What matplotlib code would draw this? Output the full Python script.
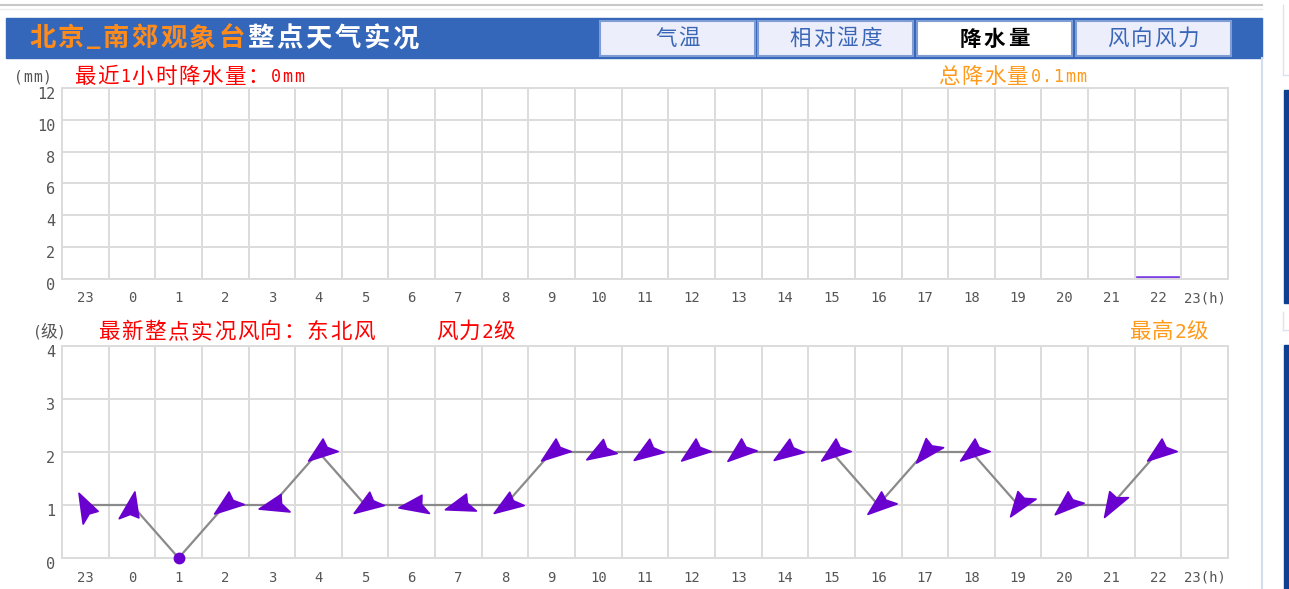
import numpy as np
import matplotlib.pyplot as plt
from matplotlib.path import Path
from matplotlib.markers import MarkerStyle
from matplotlib.patches import Rectangle
from matplotlib.transforms import Affine2D, ScaledTranslation

plt.rcParams['font.family'] = ['Noto Sans CJK SC', 'DejaVu Sans']

# hours along the x axis (last label carries the unit)
hours = ['23', '0', '1', '2', '3', '4', '5', '6', '7', '8', '9', '10', '11',
         '12', '13', '14', '15', '16', '17', '18', '19', '20', '21', '22', '23(h)']
# hourly precipitation (mm) for 23 .. 22
rain = [0, 0, 0, 0, 0, 0, 0, 0, 0, 0, 0, 0, 0, 0, 0, 0, 0, 0, 0, 0, 0, 0, 0, 0.1]
# wind force level for 23 .. 22
wind_level = [1, 1, 0, 1, 1, 2, 1, 1, 1, 1, 2, 2, 2, 2, 2, 2, 2, 1, 2, 2, 1, 1, 1, 2]
# arrow heading (deg, counter-clockwise from east), None = calm
wind_dir = [118, 80, None, 218, 195, 218, 215, 190, 198, 215, 218, 212, 215, 218,
            220, 215, 218, 220, 230, 218, 235, 222, 240, 218]

rain_ticks = [0, 2, 4, 6, 8, 10, 12]
wind_ticks = [0, 1, 2, 3, 4]

purple = '#6a00d0'
grid_c = '#dcdcdc'
tick_c = '#555555'
W, H = 1289, 589

fig = plt.figure(figsize=(W / 100, H / 100), dpi=100)

# page decoration in pixel coords
bg = fig.add_axes([0, 0, 1, 1], zorder=0)
bg.set_xlim(0, W)
bg.set_ylim(H, 0)
bg.axis('off')


def spaced(x, y, s, adv, half, size, asize=None, **kw):
    # old page font: fixed advance per glyph, ascii drawn monospace
    for ch in s:
        if ord(ch) < 128:
            bg.text(x + half / 2, y, ch, ha='center', va='center', fontsize=asize or size * 0.8,
                    family='DejaVu Sans Mono', **kw)
            x += half
        else:
            bg.text(x + adv / 2, y, ch, ha='center', va='center', fontsize=size, **kw)
            x += adv
    return x


bg.plot([0, 1262], [5, 5], color='#c8c8c8', lw=1.5)
bg.plot([0, 1262], [9, 9], color='#ececec', lw=1)
bg.add_patch(Rectangle((6, 18), 1256, 40, color='#3466b9'))
tabs = ['气温', '相对湿度', '降水量', '风向风力']
tab_x = [600, 758, 917, 1076]
for name, x0 in zip(tabs, tab_x):
    active = name == '降水量'
    bg.add_patch(Rectangle((x0, 21), 155, 35, facecolor='white' if active else '#eceefb',
                           edgecolor='#7f9dd4', lw=1.5))
    adv = 24.5 if active else 23.5
    spaced(x0 + 77.5 - adv * len(name) / 2, 39, name, adv, adv / 2, 15.5,
           color='black' if active else '#3a66b8', fontweight='bold' if active else 'normal')
xe = spaced(28, 39, '北京_南郊观象台', 29, 15, 19, 16, color='#ff8c1a', fontweight='bold')
spaced(xe, 39, '整点天气实况', 29, 15, 19, color='white', fontweight='bold')

bg.plot([1262, 1262], [58, H], color='#d3ddef', lw=1.5)
bg.plot([1283, 1283], [5, 75], color='#dde3ee', lw=1)
bg.plot([1283, W], [75, 75], color='#dde3ee', lw=1)
bg.plot([1283, 1283], [312, 330], color='#dde3ee', lw=1)
bg.plot([1283, W], [330, 330], color='#dde3ee', lw=1)
bg.add_patch(Rectangle((1284, 90), 6, 213, color='#0d3f92'))
bg.add_patch(Rectangle((1284, 345), 6, 244, color='#0d3f92'))

spaced(13, 77, '(mm)', 10, 9.8, 10.5, 10.5, color=tick_c)
spaced(73, 77, '最近1小时降水量：0mm', 23.2, 11.5, 15.5, 12, color='#ff0000')
spaced(937, 77, '总降水量0.1mm', 23.2, 11.5, 15.5, 12, color='#ff9a1a')
spaced(35, 332, '(级)', 18, 5, 12, 10.5, color=tick_c)
spaced(97, 332, '最新整点实况风向：东北风', 23.2, 11, 15.5, color='#ff0000')
spaced(435, 332, '风力2级', 23.2, 11, 15.5, 14, color='#ff0000')
spaced(1128, 332, '最高2级', 23.2, 11, 15.5, 14, color='#ff9a1a')


def style_axes(ax, yticks):
    ax.set_facecolor('none')
    ax.set_xlim(-0.5, 24.5)
    ax.set_ylim(yticks[0], yticks[-1])
    ax.set_xticks(np.arange(len(hours)))
    ax.set_xticklabels(hours)
    ax.set_xticks(np.arange(-0.5, 25, 1), minor=True)
    ax.set_yticks(yticks)
    ax.grid(which='minor', axis='x', color=grid_c, lw=1.4)
    ax.grid(which='major', axis='y', color=grid_c, lw=1.4)
    ax.tick_params(which='both', length=0)
    ax.tick_params(axis='x', pad=9, labelsize=10, labelcolor=tick_c)
    ax.tick_params(axis='y', pad=5, labelsize=11, labelcolor=tick_c)
    for lab in ax.get_xticklabels() + ax.get_yticklabels():
        lab.set_family('DejaVu Sans Mono')
    shift = ScaledTranslation(0, -5 / 100, fig.dpi_scale_trans)
    for lab in ax.get_yticklabels():
        lab.set_transform(lab.get_transform() + shift)
    for s in ax.spines.values():
        s.set_color(grid_c)
        s.set_linewidth(1.4)
    ax.set_axisbelow(True)


# precipitation chart
ax1 = fig.add_axes([62 / W, 1 - 279 / H, 1166 / W, 191 / H], zorder=1)
style_axes(ax1, rain_ticks)
x = np.arange(len(rain))
ax1.bar(x, rain, width=0.9, color='#7b3fe4', edgecolor='#7b3fe4', lw=1.2)

# wind chart
ax2 = fig.add_axes([62 / W, 1 - 558 / H, 1166 / W, 212 / H], zorder=1)
style_axes(ax2, wind_ticks)
xw = np.arange(len(wind_level))
ax2.plot(xw, wind_level, color='#8a8a8a', lw=1.6, zorder=2)

# dart-shaped arrow, tip pointing east, in pixels
dart = Path([(12.8, 0), (-10.3, -7.8), (-8.5, 0.6), (-14.2, 10), (12.8, 0)], closed=True)
for xi, lv, d in zip(xw, wind_level, wind_dir):
    if d is None:
        ax2.plot(xi, lv, 'o', ms=7.5, color=purple, clip_on=False, zorder=3)
        continue
    m = MarkerStyle(dart, transform=Affine2D().rotate_deg(d))
    ax2.plot(xi, lv, linestyle='none', marker=m, ms=22, color=purple,
             mec=purple, mew=1.2, clip_on=False, zorder=3)

fig.savefig('out.png', dpi=100)
